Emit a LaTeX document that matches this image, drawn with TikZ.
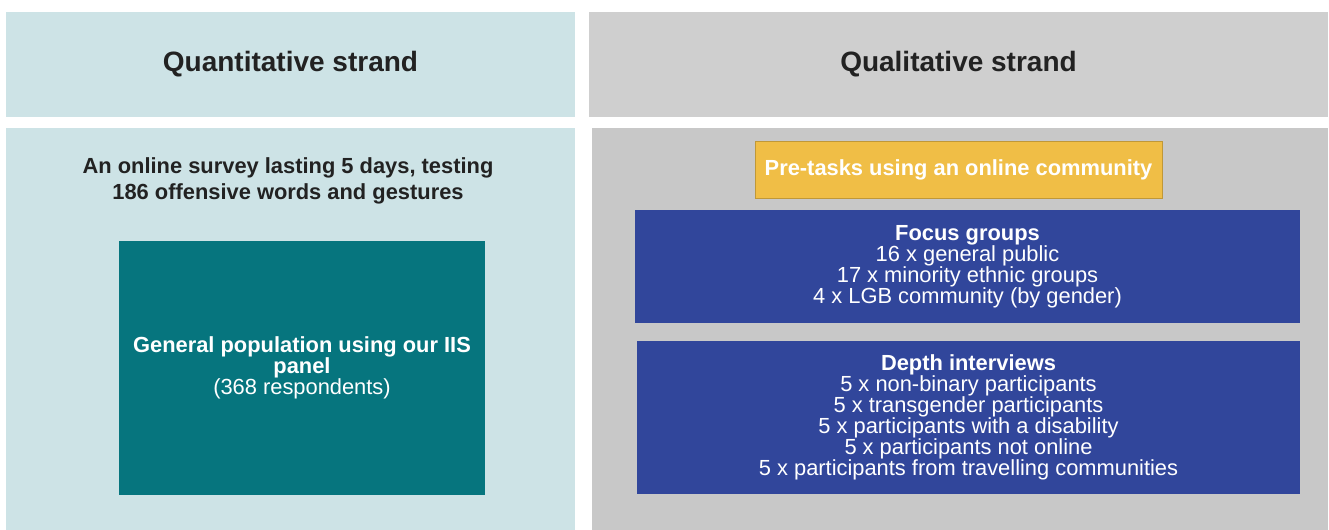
\documentclass[tikz,border=0pt]{standalone}
\usepackage{fontspec}
\setmainfont{Liberation Sans}
\usepackage{tikz}

\definecolor{quantbg}{HTML}{CDE3E6}
\definecolor{qualhead}{HTML}{CFCFCF}
\definecolor{qualbg}{HTML}{C8C8C8}
\definecolor{panelteal}{HTML}{06757E}
\definecolor{pregold}{HTML}{F0BE46}
\definecolor{groupblue}{HTML}{31469B}
\definecolor{inkdark}{HTML}{222222}

\begin{document}
\begin{tikzpicture}[x=0.75pt,y=-0.75pt,
            box/.style={inner sep=0pt,outer sep=0pt,align=center},
            headtext/.style={font=\bfseries\fontsize{21}{25}\selectfont,text=inkdark},
            bodytext/.style={font=\fontsize{16.4}{15.75}\selectfont,text=white}]
            \useasboundingbox (0,0) rectangle (1329,530);
            \node[box,fill=quantbg,minimum width=426.75pt,minimum height=78.75pt,headtext] (quanthead) at (290.5,64.5) {Quantitative strand};
            \node[box,fill=qualhead,minimum width=554.25pt,minimum height=78.75pt,headtext] (qualhead) at (958.5,64.5) {Qualitative strand};
            \node[box,fill=quantbg,minimum width=426.75pt,minimum height=301.5pt] (quantbody) at (290.5,329) {};
            \node[box,fill=qualbg,minimum width=552pt,minimum height=301.5pt] (qualbody) at (960,329) {};
            \node[box,text=inkdark,font=\bfseries\fontsize{16.4}{19.5}\selectfont] (survey) at (288,181) {An online survey lasting 5 days, testing\\186 offensive words and gestures};
            \node[box,fill=panelteal,minimum width=274.5pt,minimum height=190.5pt,bodytext] (panel) at (302,368) {\textbf{General population using our IIS}\\\textbf{panel}\\(368 respondents)};
            \node[box,fill=pregold,draw=pregold!80!black,minimum width=305.25pt,minimum height=42.75pt,bodytext] (pretask) at (958.5,169.5) {\textbf{Pre-tasks using an online community}};
            \node[box,fill=groupblue,minimum width=498.75pt,minimum height=84.75pt,bodytext] (focus) at (967.5,266.5) {\textbf{Focus groups}\\16 x general public\\17 x minority ethnic groups\\4 x LGB community (by gender)};
            \node[box,fill=groupblue,minimum width=497.25pt,minimum height=114.75pt,bodytext] (depth) at (968.5,417.5) {\textbf{Depth interviews}\\5 x non-binary participants\\5 x transgender participants\\5 x participants with a disability\\5 x participants not online\\5 x participants from travelling communities};
        \end{tikzpicture}
\end{document}
